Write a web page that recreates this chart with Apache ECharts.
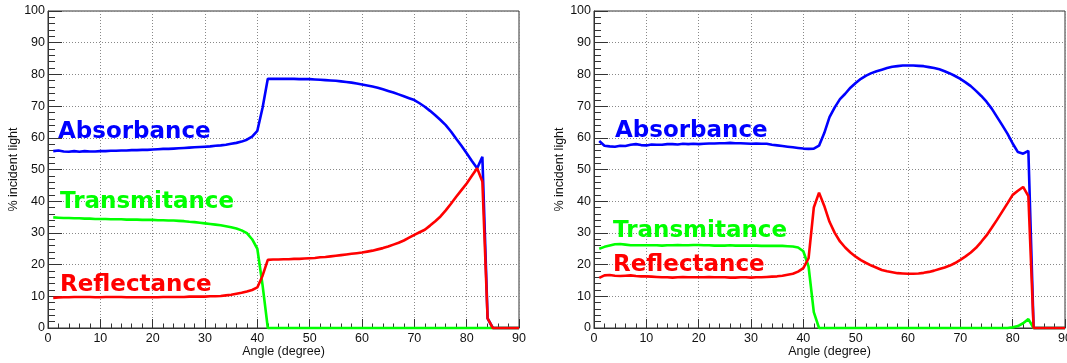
<!DOCTYPE html>
<html>
<head>
<meta charset="utf-8">
<script src="https://cdn.jsdelivr.net/npm/echarts@6/dist/echarts.min.js"></script>
<style>
html,body{margin:0;padding:0;background:#fff;}
#chart{width:1067px;height:363px;}
</style>
</head>
<body>
<div id="chart"></div>
<script>
// Angles (degree) 1..90
const angles = [1,2,3,4,5,6,7,8,9,10,11,12,13,14,15,16,17,18,19,20,21,22,23,24,25,26,27,28,29,30,31,32,33,34,35,36,37,38,39,40,41,42,43,44,45,46,47,48,49,50,51,52,53,54,55,56,57,58,59,60,61,62,63,64,65,66,67,68,69,70,71,72,73,74,75,76,77,78,79,80,81,82,83,84,85,86,87,88,89,90];

// Left panel
const absorbanceLeft = [55.8,56.0,55.7,55.6,55.8,55.6,55.8,55.7,55.7,55.8,55.8,55.9,55.9,56.0,56.0,56.1,56.1,56.2,56.2,56.3,56.4,56.5,56.5,56.6,56.7,56.8,56.9,57.0,57.1,57.2,57.3,57.5,57.6,57.8,58.1,58.4,58.8,59.4,60.4,62.2,69.5,78.6,78.6,78.6,78.6,78.6,78.6,78.5,78.5,78.5,78.4,78.3,78.2,78.1,78.0,77.8,77.6,77.4,77.1,76.8,76.5,76.2,75.8,75.3,74.8,74.3,73.7,73.1,72.5,71.9,70.9,69.8,68.5,67.1,65.6,64.0,62.0,59.7,57.5,55.1,52.7,50.4,54.0,3.0,0,0,0,0,0,0];
const transmitanceLeft = [34.9,34.8,34.7,34.7,34.6,34.6,34.5,34.5,34.4,34.4,34.4,34.3,34.3,34.3,34.2,34.2,34.2,34.1,34.1,34.1,34.0,34.0,33.9,33.9,33.8,33.7,33.5,33.4,33.2,33.0,32.8,32.6,32.4,32.1,31.8,31.4,30.8,29.9,28.0,25.0,13.5,0,0,0,0,0,0,0,0,0,0,0,0,0,0,0,0,0,0,0,0,0,0,0,0,0,0,0,0,0,0,0,0,0,0,0,0,0,0,0,0,0,0,0,0,0,0,0,0,0];
const reflectanceLeft = [9.5,9.6,9.7,9.7,9.8,9.8,9.8,9.8,9.7,9.7,9.8,9.8,9.8,9.8,9.7,9.7,9.7,9.7,9.7,9.7,9.7,9.8,9.8,9.8,9.8,9.8,9.9,9.9,9.9,9.9,10.0,10.0,10.1,10.3,10.5,10.8,11.1,11.5,12.0,12.8,16.5,21.5,21.6,21.6,21.7,21.7,21.8,21.8,21.9,22.0,22.1,22.3,22.4,22.6,22.8,23.0,23.2,23.4,23.6,23.8,24.1,24.4,24.8,25.2,25.7,26.3,26.9,27.6,28.5,29.4,30.2,31.0,32.3,33.7,35.2,37.1,39.2,41.4,43.5,45.6,48.0,50.4,46.2,3.0,0,0,0,0,0,0];

// Right panel
const absorbanceRight = [59.0,57.5,57.3,57.2,57.5,57.4,57.8,58.0,57.7,57.6,57.9,57.8,57.8,58.0,58.0,57.9,58.1,58.0,58.1,58.0,58.1,58.2,58.2,58.3,58.3,58.4,58.3,58.3,58.2,58.1,58.2,58.1,58.1,57.8,57.6,57.4,57.2,57.0,56.8,56.6,56.5,56.6,57.5,61.5,66.5,69.6,72.2,73.9,75.8,77.3,78.6,79.6,80.4,81.0,81.5,82.0,82.4,82.6,82.8,82.8,82.8,82.7,82.6,82.3,82.0,81.6,81.0,80.3,79.5,78.6,77.5,76.3,74.8,73.2,71.4,69.2,66.6,64.0,61.3,58.2,55.5,55.0,55.9,0,0,0,0,0,0,0];
const transmitanceRight = [25.0,25.6,26.0,26.4,26.5,26.3,26.1,26.1,26.1,26.1,26.1,26.1,26.0,26.1,26.1,26.2,26.1,26.1,26.2,26.2,26.1,26.1,26.0,26.0,26.0,26.1,26.0,26.0,26.0,26.0,26.0,25.9,25.9,25.9,25.9,25.9,25.8,25.7,25.4,24.2,19.4,5.0,0,0,0,0,0,0,0,0,0,0,0,0,0,0,0,0,0,0,0,0,0,0,0,0,0,0,0,0,0,0,0,0,0,0,0,0,0,0.2,0.6,1.5,2.8,0,0,0,0,0,0,0];
const reflectanceRight = [15.8,16.6,16.7,16.5,16.4,16.5,16.6,16.4,16.3,16.3,16.2,16.1,16.0,16.0,15.9,16.0,16.1,16.0,16.0,16.0,16.0,16.1,16.0,16.0,16.0,15.9,15.9,16.0,16.0,15.9,16.0,16.0,16.1,16.2,16.3,16.5,16.8,17.1,17.8,18.9,22.0,38.0,42.7,38.5,33.5,30.0,27.3,25.4,23.8,22.5,21.4,20.5,19.7,19.0,18.3,17.9,17.6,17.3,17.2,17.1,17.1,17.2,17.4,17.7,18.1,18.6,19.1,19.7,20.5,21.5,22.6,23.8,25.3,27.2,29.2,31.6,34.1,36.7,39.3,42.0,43.3,44.5,41.6,0,0,0,0,0,0,0];

const seriesNames = ['Absorbance','Transmitance','Reflectance'];
const seriesColors = ['#0000ff','#00ff00','#ff0000'];
const xTitle = 'Angle (degree)';
const yTitle = '% incident light';

const pair = (vals) => angles.map((a, i) => [a, vals[i]]);
const FONT = "'Liberation Sans', Arial, sans-serif";

function xAx(gi){
  return {
    gridIndex: gi, type: 'value', min: 0, max: 90, interval: 10,
    name: xTitle, nameLocation: 'middle', nameGap: 17, nameMoveOverlap: false,
    nameTextStyle: {fontFamily: FONT, fontSize: 12.5, color: '#111', verticalAlign: 'top'},
    axisLine: {show: true, onZero: false, lineStyle: {color: '#333', width: 1}},
    axisTick: {show: true, inside: true, length: 9, lineStyle: {color: '#333'}},
    minorTick: {show: true, splitNumber: 5, length: 4.5, lineStyle: {color: '#333'}},
    axisLabel: {fontFamily: FONT, fontSize: 12.5, color: '#111', margin: 4},
    splitLine: {show: true, lineStyle: {color: '#888', type: [1, 2], width: 1}}
  };
}
function yAx(gi){
  return {
    gridIndex: gi, type: 'value', min: 0, max: 100, interval: 10,
    name: yTitle, nameLocation: 'middle', nameGap: 27, nameRotate: 90,
    nameTextStyle: {fontFamily: FONT, fontSize: 12.5, color: '#111'},
    axisLine: {show: true, onZero: false, lineStyle: {color: '#333', width: 1}},
    axisTick: {show: true, inside: true, length: 14, lineStyle: {color: '#333'}},
    minorTick: {show: true, splitNumber: 5, length: 7, lineStyle: {color: '#333'}},
    axisLabel: {fontFamily: FONT, fontSize: 12.5, color: '#111', margin: 3},
    splitLine: {show: true, lineStyle: {color: '#888', type: [1, 2], width: 1}}
  };
}
function ser(gi, k, vals){
  return {
    type: 'line', name: seriesNames[k], xAxisIndex: gi, yAxisIndex: gi,
    data: pair(vals), showSymbol: false, symbol: 'none', clip: false,
    lineStyle: {color: seriesColors[k], width: 2.6}, z: 3 + k
  };
}
function label(txt, k, x, y){
  return {type: 'text', x: x, y: y, z: 100,
    style: {text: txt, fill: seriesColors[k], font: "bold 23px 'DejaVu Sans', sans-serif", verticalAlign: 'middle', align: 'left'}};
}

const chart = echarts.init(document.getElementById('chart'), null, {renderer: 'canvas'});
chart.setOption({
  animation: false,
  backgroundColor: '#fff',
  grid: [
    {left: 48, top: 11, width: 471, height: 317, show: true, borderColor: '#333', borderWidth: 1, containLabel: false, outerBoundsMode: 'none'},
    {left: 594, top: 11, width: 471, height: 317, show: true, borderColor: '#333', borderWidth: 1, containLabel: false, outerBoundsMode: 'none'}
  ],
  xAxis: [xAx(0), xAx(1)],
  yAxis: [yAx(0), yAx(1)],
  series: [
    ser(0, 0, absorbanceLeft), ser(0, 1, transmitanceLeft), ser(0, 2, reflectanceLeft),
    ser(1, 0, absorbanceRight), ser(1, 1, transmitanceRight), ser(1, 2, reflectanceRight)
  ],
  graphic: [
    label(seriesNames[0], 0, 58, 132),
    label(seriesNames[1], 1, 60, 202),
    label(seriesNames[2], 2, 60, 285.5),
    label(seriesNames[0], 0, 615, 131.5),
    label(seriesNames[1], 1, 613, 231),
    label(seriesNames[2], 2, 613, 265.5)
  ]
});
</script>
</body>
</html>
